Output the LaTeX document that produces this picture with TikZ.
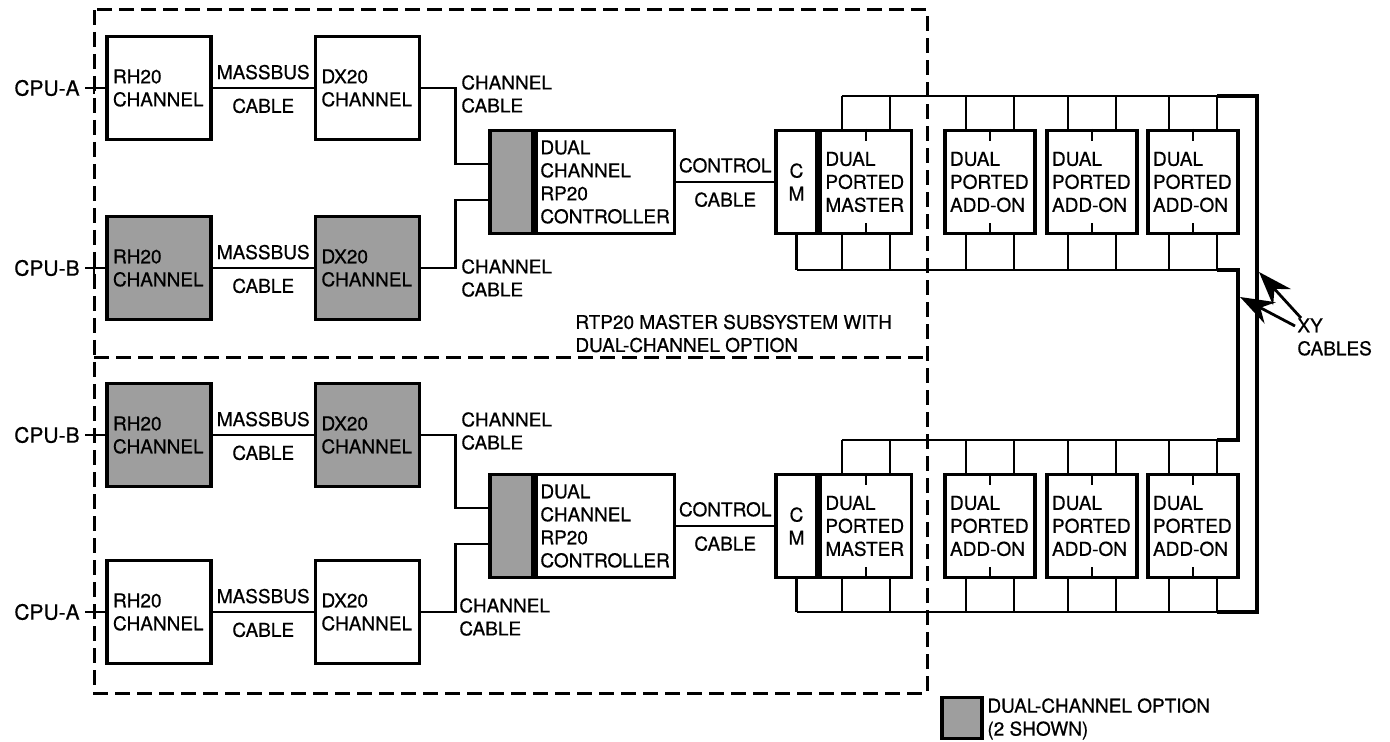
\documentclass[tikz,border=0pt]{standalone}
\usepackage{fontspec}
\setmainfont{TeX Gyre Heros}[FakeBold=0.6]
\usepackage{tikz}
\usetikzlibrary{positioning, arrows.meta, calc}
\definecolor{optcolor}{RGB}{158,158,158}
\newcommand{\lblfont}{\fontsize{9.5}{11.5}\selectfont}
\newcommand{\cpufont}{\fontsize{10.5}{12}\selectfont}

\begin{document}
\begin{tikzpicture}[x=0.5pt, y=-0.5pt,
    wire/.style={line width=1.4pt},
    unit/.style={draw, line width=1.7pt, minimum height=51.5pt, inner xsep=3pt, inner ysep=0pt, align=left, font=\lblfont},
    optunit/.style={unit, fill=optcolor},
    lbl/.style={font=\lblfont, inner sep=0pt, align=left},
    cpulbl/.style={font=\cpufont, inner ysep=0pt, inner xsep=2.5pt, anchor=east},
    frame/.style={line width=1.5pt, dash pattern=on 7.5pt off 3.5pt},
    xycable/.style={line width=2.2pt},
    xyarrow/.style={line width=1.4pt, -{Stealth[length=17pt, width=12pt]}}]
    \useasboundingbox (0,0) rectangle (1390,742);

    % Cadre pointillé des deux sous-systèmes
    \draw[frame] (94,10) rectangle (927,693);
    \draw[frame] (94,358) -- (927,358);
    \node[lbl, anchor=west] (subsys) at (575,333.5) {RTP20 MASTER SUBSYSTEM WITH\\DUAL-CHANNEL OPTION};

    % Niveaux des bus et des câbles XY
    \coordinate (tU) at (0,96);
    \coordinate (bU) at (0,270);
    \coordinate (tL) at (0,440);
    \coordinate (bL) at (0,612);
    \coordinate (xyO) at (1257,0);
    \coordinate (xyI) at (1238,0);

    % ---- Sous-système du haut ----
    \node[cpulbl] (cpuA1) at (85,88) {CPU-A};
    \node[cpulbl] (cpuB1) at (85,268) {CPU-B};
    \node[unit, text width=46pt] (rhA1) at (159,88) {RH20\\CHANNEL};
    \node[unit, text width=46pt] (dxA1) at (367.5,88) {DX20\\CHANNEL};
    \node[optunit, text width=46pt] (rhB1) at (159,268) {RH20\\CHANNEL};
    \node[optunit, text width=46pt] (dxB1) at (367.5,268) {DX20\\CHANNEL};
    \draw[wire] (cpuA1) -- (rhA1);
    \draw[wire] (cpuB1) -- (rhB1);
    \draw[wire] ([xshift=4.5pt]cpuA1.east) ++(0,-6) -- ++(0,12);
    \draw[wire] ([xshift=4.5pt]cpuB1.east) ++(0,-6) -- ++(0,12);
    \draw[wire] (rhA1) -- node[lbl, above=3.6pt] {MASSBUS} node[lbl, below=4.6pt] {CABLE} (dxA1);
    \draw[wire] (rhB1) -- node[lbl, above=3.6pt] {MASSBUS} node[lbl, below=4.6pt] {CABLE} (dxB1);

    % Contrôleur double canal
    \node[optunit, minimum width=21.5pt] (ctlG1) at (511.5,182) {};
    \node[unit, text width=65pt, inner xsep=2pt, right=0pt of ctlG1] (ctl1) {DUAL\\CHANNEL\\RP20\\CONTROLLER};
    \draw[wire] (dxA1.east) -- ++(34,0) |- ([yshift=9pt]ctlG1.west);
    \draw[wire] (dxB1.east) -- ++(34,0) |- ([yshift=-9pt]ctlG1.west);
    \node[lbl, anchor=west] (ccA1) at (461,94) {CHANNEL\\CABLE};
    \node[lbl, anchor=west] (ccB1) at (461,278) {CHANNEL\\CABLE};

    % Maître et extensions
    \node[unit, minimum width=20.5pt, inner xsep=0pt, align=center] (cm1) at (796.5,182) {C\\M};
    \node[unit, text width=40.5pt, inner xsep=2.5pt, right=0pt of cm1] (ms1) {DUAL\\PORTED\\MASTER};
    \node[unit, text width=40pt, inner xsep=2.5pt] (ao11) at (990,182) {DUAL\\PORTED\\ADD-ON};
    \node[unit, text width=40pt, inner xsep=2.5pt] (ao12) at (1092,182) {DUAL\\PORTED\\ADD-ON};
    \node[unit, text width=40pt, inner xsep=2.5pt] (ao13) at (1193,182) {DUAL\\PORTED\\ADD-ON};
    \draw[wire] (ctl1) -- node[lbl, above=4pt] {CONTROL} node[lbl, below=4.5pt] {CABLE} (cm1);

    % ---- Sous-système du bas ----
    \node[cpulbl] (cpuB2) at (85,435) {CPU-B};
    \node[cpulbl] (cpuA2) at (85,612) {CPU-A};
    \node[optunit, text width=46pt] (rhB2) at (159,435) {RH20\\CHANNEL};
    \node[optunit, text width=46pt] (dxB2) at (367.5,435) {DX20\\CHANNEL};
    \node[unit, text width=46pt] (rhA2) at (159,612) {RH20\\CHANNEL};
    \node[unit, text width=46pt] (dxA2) at (367.5,612) {DX20\\CHANNEL};
    \draw[wire] (cpuB2) -- (rhB2);
    \draw[wire] (cpuA2) -- (rhA2);
    \draw[wire] ([xshift=4.5pt]cpuB2.east) ++(0,-6) -- ++(0,12);
    \draw[wire] ([xshift=4.5pt]cpuA2.east) ++(0,-6) -- ++(0,12);
    \draw[wire] (rhB2) -- node[lbl, above=3.6pt] {MASSBUS} node[lbl, below=4.6pt] {CABLE} (dxB2);
    \draw[wire] (rhA2) -- node[lbl, above=3.6pt] {MASSBUS} node[lbl, below=4.6pt] {CABLE} (dxA2);

    \node[optunit, minimum width=21.5pt] (ctlG2) at (511.5,526) {};
    \node[unit, text width=65pt, inner xsep=2pt, right=0pt of ctlG2] (ctl2) {DUAL\\CHANNEL\\RP20\\CONTROLLER};
    \draw[wire] (dxB2.east) -- ++(34,0) |- ([yshift=9pt]ctlG2.west);
    \draw[wire] (dxA2.east) -- ++(34,0) |- ([yshift=-9pt]ctlG2.west);
    \node[lbl, anchor=west] (ccB2) at (461,431) {CHANNEL\\CABLE};
    \node[lbl, anchor=west] (ccA2) at (459,617) {CHANNEL\\CABLE};

    \node[unit, minimum width=20.5pt, inner xsep=0pt, align=center] (cm2) at (796.5,526) {C\\M};
    \node[unit, text width=40.5pt, inner xsep=2.5pt, right=0pt of cm2] (ms2) {DUAL\\PORTED\\MASTER};
    \node[unit, text width=40pt, inner xsep=2.5pt] (ao21) at (990,526) {DUAL\\PORTED\\ADD-ON};
    \node[unit, text width=40pt, inner xsep=2.5pt] (ao22) at (1092,526) {DUAL\\PORTED\\ADD-ON};
    \node[unit, text width=40pt, inner xsep=2.5pt] (ao23) at (1193,526) {DUAL\\PORTED\\ADD-ON};
    \draw[wire] (ctl2) -- node[lbl, above=4pt] {CONTROL} node[lbl, below=4.5pt] {CABLE} (cm2);

    % Piquages sur les bus
    \foreach \bx/\tb/\bb in {ms1/tU/bU, ao11/tU/bU, ao12/tU/bU, ao13/tU/bU, ms2/tL/bL, ao21/tL/bL, ao22/tL/bL, ao23/tL/bL} {
        \draw[wire] (\bx.north) -- ++(0,12) (\bx.south) -- ++(0,-12);
        \draw[wire] ([xshift=-12pt]\bx.north) -- ([xshift=-12pt]\bx.north |- \tb)
                    ([xshift=12pt]\bx.north) -- ([xshift=12pt]\bx.north |- \tb);
        \draw[wire] ([xshift=-12pt]\bx.south) -- ([xshift=-12pt]\bx.south |- \bb)
                    ([xshift=12pt]\bx.south) -- ([xshift=12pt]\bx.south |- \bb);
    }
    \draw[wire] (cm1.south) -- (cm1.south |- bU);
    \draw[wire] (cm2.south) -- (cm2.south |- bL);

    % Bus
    \draw[wire] ([xshift=-12pt]ms1.north |- tU) -- ([xshift=12pt]ao13.north |- tU);
    \draw[wire] (cm1.south |- bU) -- ([xshift=12pt]ao13.south |- bU);
    \draw[wire] ([xshift=-12pt]ms2.north |- tL) -- ([xshift=12pt]ao23.north |- tL);
    \draw[wire] (cm2.south |- bL) -- ([xshift=12pt]ao23.south |- bL);

    % Câbles XY
    \draw[xycable] ([xshift=12pt]ao13.north |- tU) -- (xyO |- tU) -- (xyO |- bL) -- ([xshift=12pt]ao23.south |- bL);
    \draw[xycable] ([xshift=12pt]ao13.south |- bU) -- (xyI |- bU) -- (xyI |- tL) -- ([xshift=12pt]ao23.north |- tL);
    \node[lbl, anchor=west] (xy) at (1297,337) {XY\\CABLES};
    \coordinate (xyOtip) at (1259,272);
    \coordinate (xyItip) at (1240,297);
    \draw[xyarrow] ([xshift=2pt]xy.north west) -- (xyOtip);
    \draw[xyarrow] ([xshift=-1pt, yshift=-4pt]xy.north west) -- (xyItip);

    % Légende
    \node[optunit, line width=1.9pt, minimum width=20pt, minimum height=20.5pt] (key) at (962,718) {};
    \node[lbl, anchor=west] (keytxt) at (987,719) {DUAL-CHANNEL OPTION\\(2 SHOWN)};
\end{tikzpicture}
\end{document}
